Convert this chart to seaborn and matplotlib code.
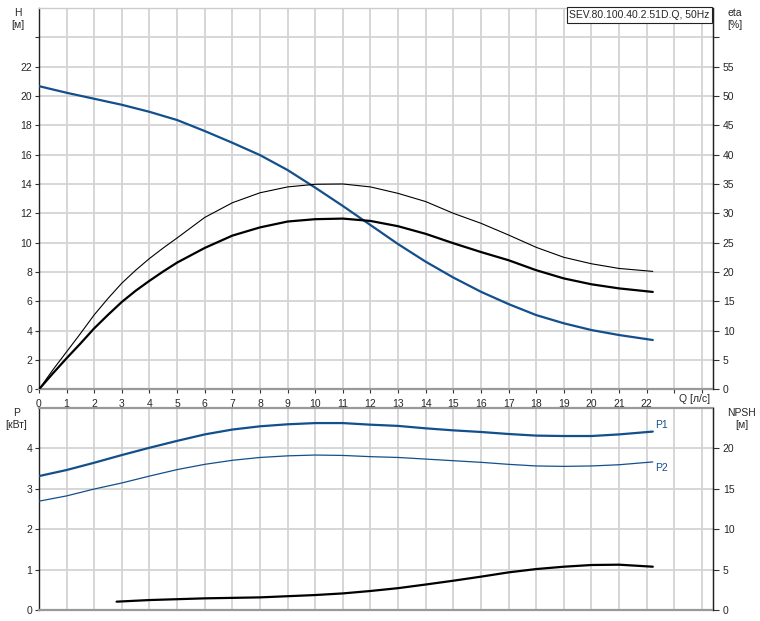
import matplotlib
matplotlib.use("Agg")
import matplotlib.pyplot as plt
import seaborn as sns
import pandas as pd
from matplotlib.ticker import FixedLocator, FixedFormatter

sns.set_style("white")
plt.rcParams['font.family'] = ['Liberation Sans', 'DejaVu Sans']

# ---- data ----
q_main = [0, 1, 2, 3, 4, 5, 6, 7, 8, 9, 10, 11, 12, 13, 14, 15, 16, 17, 18, 19, 20, 21, 22.22]
head_m = [20.67, 20.22, 19.81, 19.4, 18.92, 18.36, 17.61, 16.81, 15.97, 14.95, 13.75, 12.5,
          11.2, 9.9, 8.7, 7.62, 6.65, 5.81, 5.06, 4.5, 4.04, 3.7, 3.36]
p1_kw = [3.31, 3.46, 3.64, 3.83, 4.01, 4.18, 4.34, 4.46, 4.54, 4.59, 4.62, 4.62, 4.58, 4.55,
         4.49, 4.44, 4.40, 4.35, 4.31, 4.30, 4.30, 4.34, 4.41]
p2_kw = [2.69, 2.82, 2.99, 3.14, 3.31, 3.47, 3.60, 3.70, 3.77, 3.81, 3.83, 3.82, 3.79, 3.77,
         3.73, 3.69, 3.65, 3.60, 3.56, 3.55, 3.56, 3.59, 3.66]
q_eta = [0, 0.5, 1, 1.5, 2, 2.5, 3, 3.5, 4, 4.5, 5, 6, 7, 8, 9, 10, 11, 12, 13, 14, 15, 16,
         17, 18, 19, 20, 21, 22.22]
eta_pump = [0, 3.3, 6.4, 9.5, 12.7, 15.5, 18.1, 20.3, 22.3, 24.1, 25.8, 29.3, 31.8, 33.5,
            34.5, 34.95, 35.0, 34.5, 33.4, 32.0, 30.0, 28.3, 26.3, 24.2, 22.5, 21.4, 20.6, 20.1]
eta_total = [0, 2.7, 5.3, 7.8, 10.4, 12.7, 14.9, 16.8, 18.5, 20.1, 21.6, 24.1, 26.2, 27.6,
             28.6, 29.0, 29.1, 28.7, 27.8, 26.5, 24.9, 23.4, 22.0, 20.3, 18.9, 17.9, 17.2, 16.6]
q_npsh = [2.81, 4, 6, 8, 10, 11, 12, 13, 14, 15, 16, 17, 18, 19, 20, 21, 22.22]
npsh_m = [1.03, 1.23, 1.44, 1.56, 1.85, 2.05, 2.35, 2.7, 3.15, 3.62, 4.12, 4.65, 5.06, 5.35,
          5.56, 5.6, 5.35]

x_ticks = list(range(0, 25))
x_labels = [str(v) for v in range(0, 23)] + ['', '']
h_ticks = list(range(0, 25, 2))
h_labels = [str(v) for v in range(0, 23, 2)] + ['']
eta_ticks = list(range(0, 61, 5))
eta_labels = [str(v) for v in range(0, 56, 5)] + ['']
p_ticks = [0, 1, 2, 3, 4]
npsh_ticks = [0, 5, 10, 15, 20]
title_text = "SEV.80.100.40.2.51D.Q, 50Hz"

df_main = pd.DataFrame({"Q": q_main, "H": head_m, "P1": p1_kw, "P2": p2_kw})
df_eta = pd.DataFrame({"Q": q_eta, "eta1": eta_pump, "eta2": eta_total})
df_npsh = pd.DataFrame({"Q": q_npsh, "NPSH": npsh_m})

BLUE = "#134f8c"
GRID = "#d3d3d3"
W, Hh = 760, 621
fig = plt.figure(figsize=(W / 100, Hh / 100), dpi=100)
fig.patch.set_facecolor("white")

def frac_box(l, t, r, b):
    return [l / W, 1 - b / Hh, (r - l) / W, (b - t) / Hh]

ax = fig.add_axes(frac_box(39, 8, 713, 389.3))
ax2 = fig.add_axes(frac_box(39, 407.7, 713, 610))
xmax = 24.4

def style(a):
    a.set_xlim(0, xmax)
    a.set_facecolor("white")
    a.grid(False)
    for xv in x_ticks:
        a.axvline(xv, color=GRID, lw=1.3, zorder=0)
    for s in a.spines.values():
        s.set_color("#222222")
        s.set_linewidth(1.0)

style(ax)
style(ax2)
ax.spines['top'].set_color("#cccccc")
for yv in h_ticks[1:]:
    ax.axhline(yv, color=GRID, lw=1.3, zorder=0)
for yv in p_ticks[1:]:
    ax2.axhline(yv, color=GRID, lw=1.3, zorder=0)
for s in (ax.spines['bottom'], ax2.spines['top'], ax2.spines['bottom']):
    s.set_color("#999999")
    s.set_linewidth(1.6)

# ---- top panel ----
sns.lineplot(data=df_main, x="Q", y="H", ax=ax, color=BLUE, lw=1.6, zorder=3)
ax.set_ylim(0, 26)
ax.yaxis.set_major_locator(FixedLocator(h_ticks))
ax.yaxis.set_major_formatter(FixedFormatter(h_labels))
ax.xaxis.set_major_locator(FixedLocator(x_ticks))
ax.xaxis.set_major_formatter(FixedFormatter(x_labels))
ax.set_xlabel("")
ax.set_ylabel("")
ax.tick_params(axis='both', which='major', labelsize=7.5, length=3, width=0.8,
               color="#333333", pad=2, left=True, bottom=True)
ax.tick_params(axis='x', pad=4)

axe = ax.twinx()
sns.lineplot(data=df_eta, x="Q", y="eta1", ax=axe, color="black", lw=0.8, zorder=2)
sns.lineplot(data=df_eta, x="Q", y="eta2", ax=axe, color="black", lw=1.6, zorder=2)
axe.set_ylim(0, 65)
axe.set_xlim(0, xmax)
axe.yaxis.set_major_locator(FixedLocator(eta_ticks))
axe.yaxis.set_major_formatter(FixedFormatter(eta_labels))
axe.set_ylabel("")
axe.grid(False)
axe.tick_params(axis='y', labelsize=7.5, length=4, width=0.8, color="#333333", pad=3, right=True)
for s in axe.spines.values():
    s.set_visible(False)
axe.spines['right'].set_visible(True)
axe.spines['right'].set_color("#222222")

ax.text(0.995, 0.995, title_text, transform=ax.transAxes, ha='right', va='top', fontsize=7.5,
        bbox=dict(boxstyle='square,pad=0.25', fc='white', ec='#222222', lw=0.8), zorder=10)
fig.text(694.5 / W, 1 - 399.5 / Hh, "Q [л/с]", ha='center', va='center', fontsize=7.5)

# ---- bottom panel ----
sns.lineplot(data=df_main, x="Q", y="P1", ax=ax2, color=BLUE, lw=1.6, zorder=3)
sns.lineplot(data=df_main, x="Q", y="P2", ax=ax2, color=BLUE, lw=0.9, zorder=3)
ax2.set_ylim(0, 5)
ax2.yaxis.set_major_locator(FixedLocator(p_ticks))
ax2.xaxis.set_major_locator(FixedLocator(x_ticks))
ax2.set_xticklabels([])
ax2.set_xlabel("")
ax2.set_ylabel("")
ax2.tick_params(axis='y', labelsize=7.5, length=3, width=0.8, color="#333333", pad=2, left=True)
ax2.tick_params(axis='x', bottom=False, length=0)
ax2.text(22.3, p1_kw[-1] + 0.03, "P1", color=BLUE, fontsize=7.5, ha='left', va='bottom')
ax2.text(22.3, p2_kw[-1] - 0.02, "P2", color=BLUE, fontsize=7.5, ha='left', va='top')

axn = ax2.twinx()
sns.lineplot(data=df_npsh, x="Q", y="NPSH", ax=axn, color="black", lw=1.6, zorder=2)
axn.set_ylim(0, 25)
axn.set_xlim(0, xmax)
axn.yaxis.set_major_locator(FixedLocator(npsh_ticks))
axn.set_ylabel("")
axn.grid(False)
axn.tick_params(axis='y', labelsize=7.5, length=4, width=0.8, color="#333333", pad=3, right=True)
for s in axn.spines.values():
    s.set_visible(False)
axn.spines['right'].set_visible(True)
axn.spines['right'].set_color("#222222")

# ---- axis unit labels ----
fs = 7.5
fig.text(18 / W, 1 - 12.7 / Hh, "H", ha='center', va='center', fontsize=fs)
fig.text(18 / W, 1 - 25 / Hh, "[м]", ha='center', va='center', fontsize=fs)
fig.text(735 / W, 1 - 13.3 / Hh, "eta", ha='center', va='center', fontsize=fs)
fig.text(735 / W, 1 - 25 / Hh, "[%]", ha='center', va='center', fontsize=fs)
fig.text(16.7 / W, 1 - 412.7 / Hh, "P", ha='center', va='center', fontsize=fs)
fig.text(16 / W, 1 - 425 / Hh, "[кВт]", ha='center', va='center', fontsize=fs)
fig.text(741.7 / W, 1 - 412.7 / Hh, "NPSH", ha='center', va='center', fontsize=fs)
fig.text(741.7 / W, 1 - 425 / Hh, "[м]", ha='center', va='center', fontsize=fs)

fig.savefig("out.png", dpi=100, facecolor="white")
